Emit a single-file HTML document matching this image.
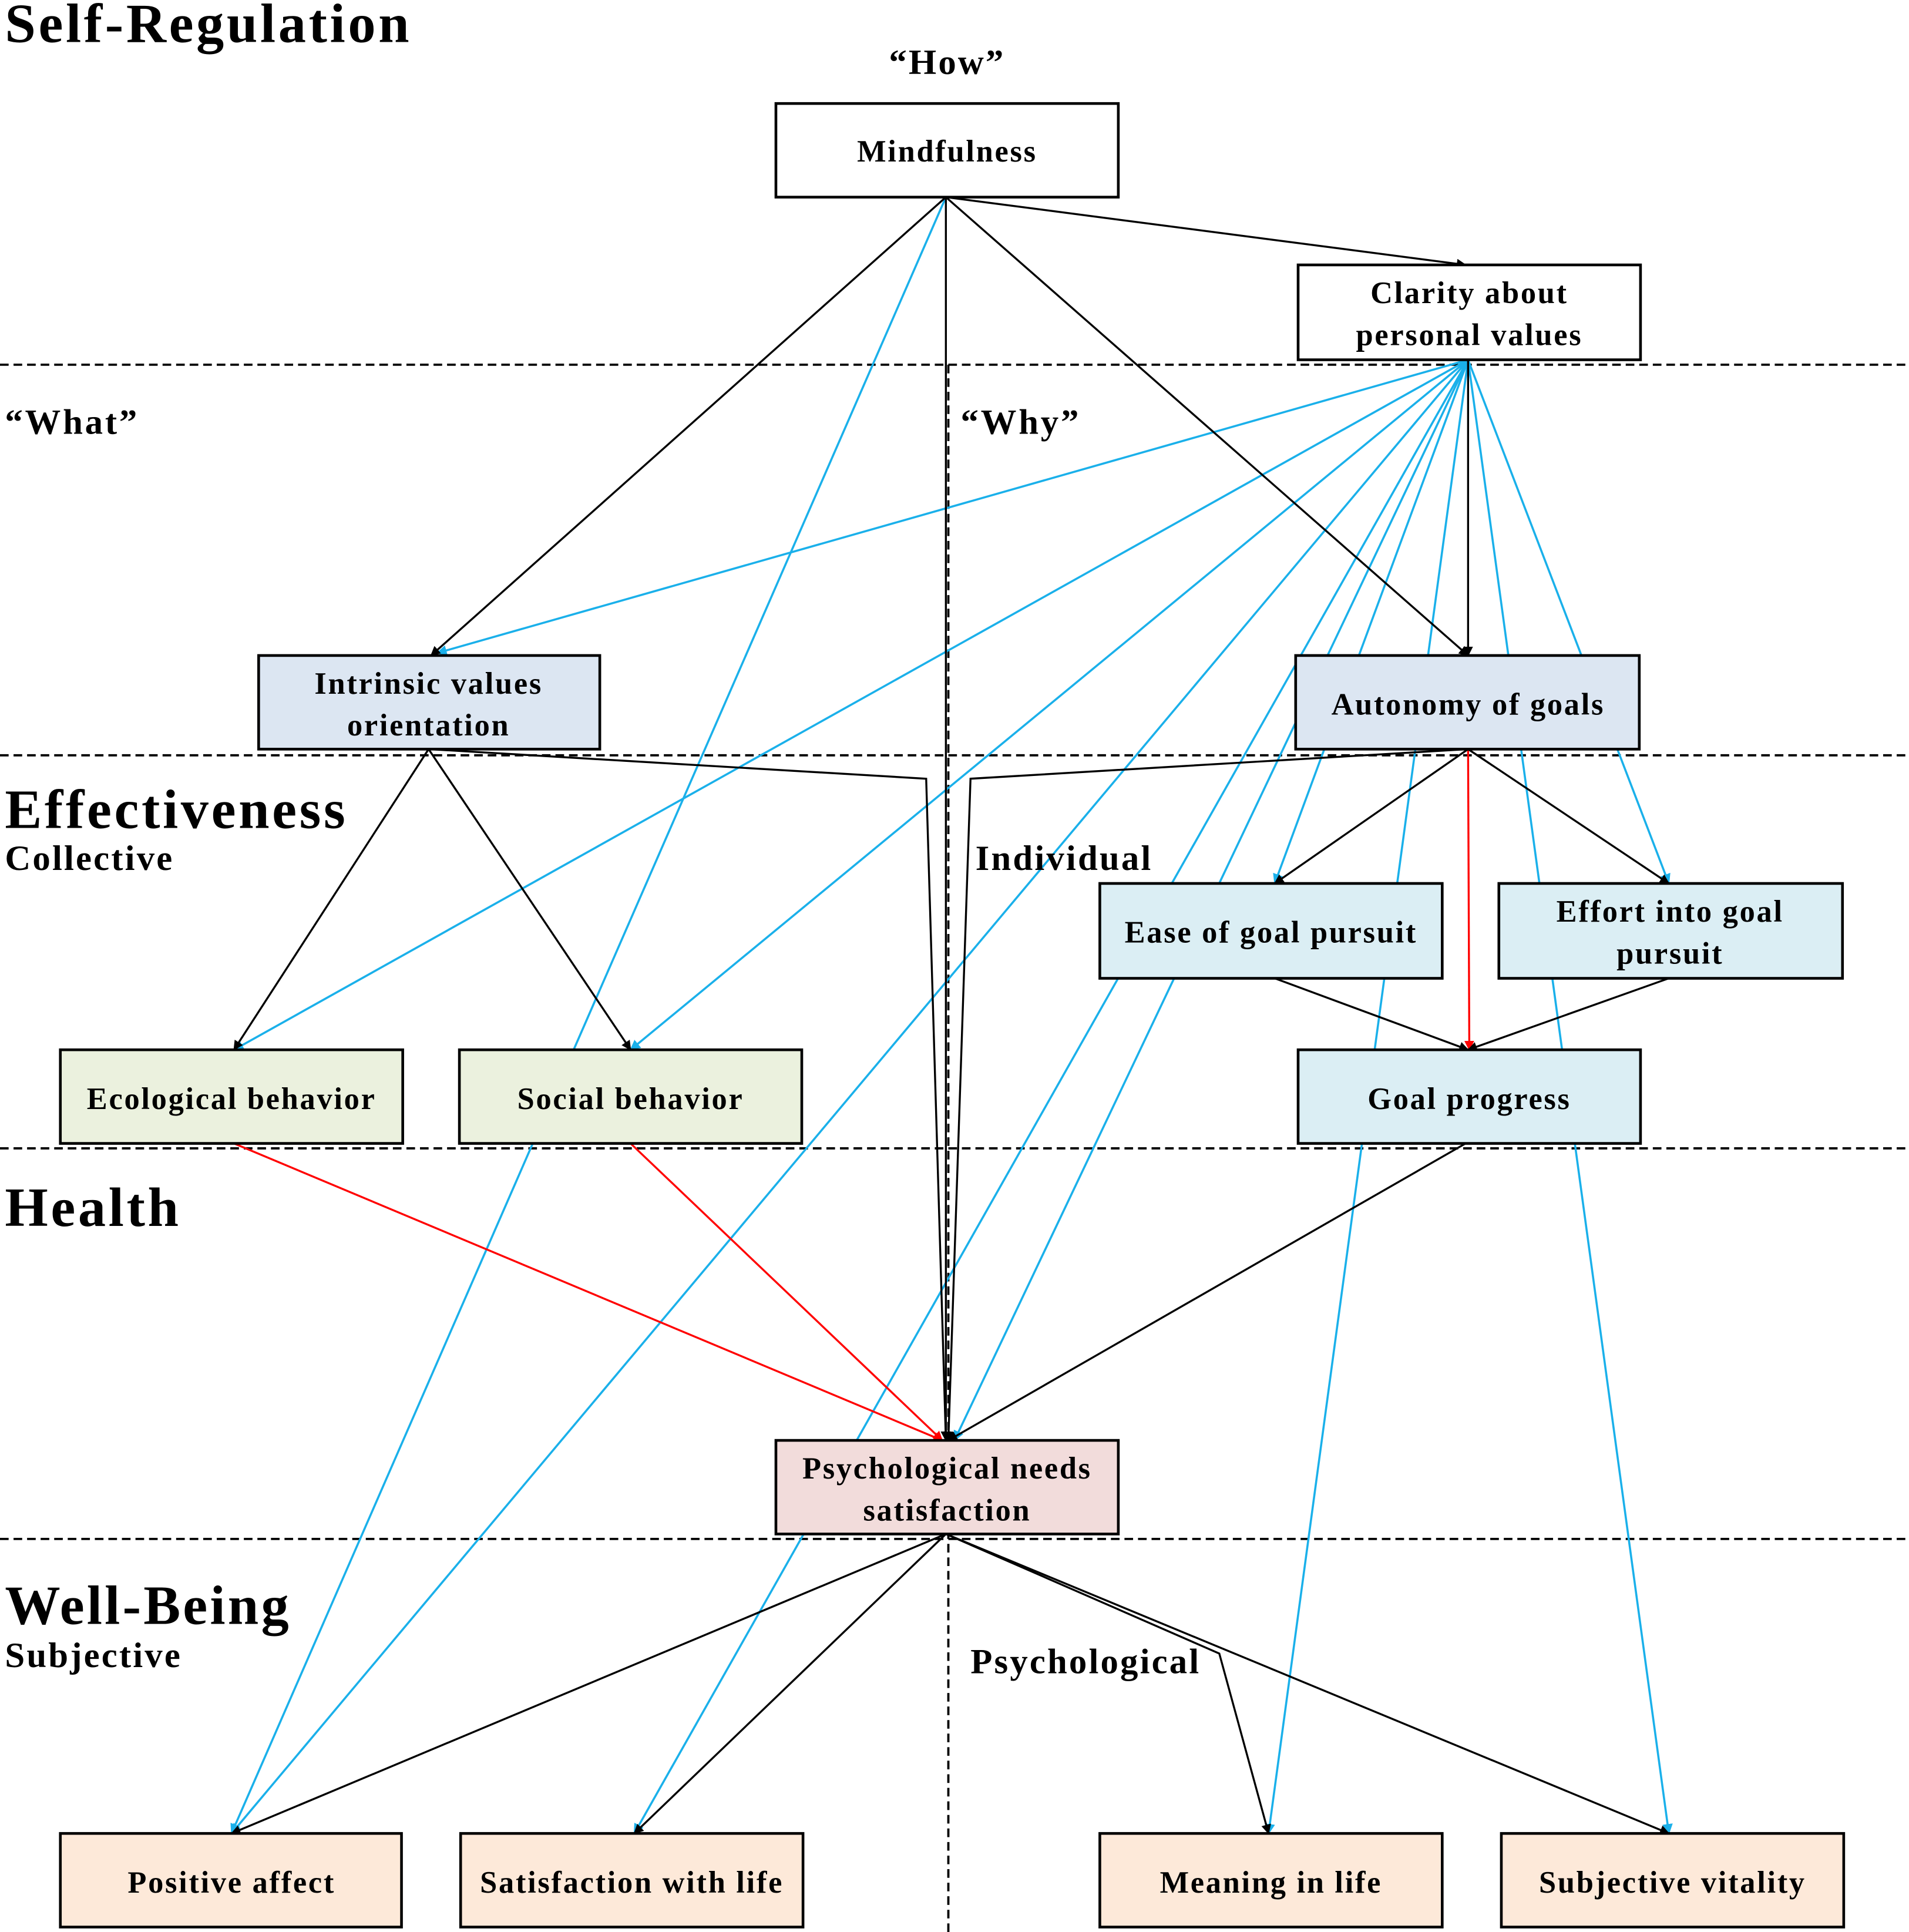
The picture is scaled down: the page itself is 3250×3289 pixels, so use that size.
<!DOCTYPE html>
<html><head><meta charset="utf-8"><style>html,body{margin:0;padding:0;background:#fff}svg{display:block}</style></head><body>
<svg xmlns="http://www.w3.org/2000/svg" width="3250" height="3289" viewBox="0 0 1550 1568" preserveAspectRatio="none" font-family="Liberation Serif, serif" font-weight="bold">
<defs>
<marker id="ak" viewBox="0 0 10 10" refX="9" refY="5" markerWidth="5" markerHeight="5" orient="auto"><path d="M0,0L10,5L0,10z" fill="#000"/></marker>
<marker id="ab" viewBox="0 0 10 10" refX="9" refY="5" markerWidth="5" markerHeight="5" orient="auto"><path d="M0,0L10,5L0,10z" fill="#1ab0ea"/></marker>
<marker id="ar" viewBox="0 0 10 10" refX="9" refY="5" markerWidth="5" markerHeight="5" orient="auto"><path d="M0,0L10,5L0,10z" fill="#f00"/></marker>
</defs>
<g stroke="#000" stroke-width="1.8" stroke-dasharray="7,4" fill="none">
<line x1="0" y1="296" x2="1550" y2="296"/>
<line x1="0" y1="613" x2="1550" y2="613"/>
<line x1="0" y1="932" x2="1550" y2="932"/>
<line x1="0" y1="1249" x2="1550" y2="1249"/>
<line x1="770" y1="296" x2="770" y2="1568"/>
</g>
<g stroke="#1ab0ea" stroke-width="1.7" fill="none" marker-end="url(#ab)">
<line x1="768" y1="160" x2="188" y2="1488"/>
<line x1="1192" y1="292" x2="355" y2="530"/>
<line x1="1192" y1="292" x2="190" y2="852"/>
<line x1="1192" y1="292" x2="512" y2="852"/>
<line x1="1192" y1="292" x2="188" y2="1488"/>
<line x1="1192" y1="292" x2="515" y2="1488"/>
<line x1="1192" y1="292" x2="775" y2="1169"/>
<line x1="1192" y1="292" x2="1035" y2="717"/>
<line x1="1192" y1="292" x2="1355" y2="717"/>
<line x1="1192" y1="292" x2="1030" y2="1488"/>
<line x1="1192" y1="292" x2="1355" y2="1488"/>
</g>
<g stroke="#f00" stroke-width="1.6" fill="none" marker-end="url(#ar)">
<line x1="190" y1="928" x2="765" y2="1169"/>
<line x1="512" y1="928" x2="765" y2="1169"/>
<line x1="1192" y1="608" x2="1193" y2="852"/>
</g>
<g stroke="#000" stroke-width="1.6" fill="none" marker-end="url(#ak)">
<line x1="768" y1="160" x2="1190" y2="215"/>
<line x1="768" y1="160" x2="350" y2="532"/>
<line x1="768" y1="160" x2="1192" y2="532"/>
<line x1="768" y1="160" x2="768" y2="1169"/>
<line x1="1192" y1="292" x2="1192" y2="532"/>
<line x1="348" y1="608" x2="190" y2="852"/>
<line x1="348" y1="608" x2="512" y2="852"/>
<polyline points="348,608 752,632 768,1169"/>
<polyline points="1192,608 788,632 770,1169"/>
<line x1="1192" y1="608" x2="1035" y2="717"/>
<line x1="1192" y1="608" x2="1355" y2="717"/>
<line x1="1035" y1="794" x2="1192" y2="852"/>
<line x1="1355" y1="794" x2="1192" y2="852"/>
<line x1="1190" y1="928" x2="770" y2="1169"/>
<line x1="768" y1="1245" x2="188" y2="1488"/>
<line x1="768" y1="1245" x2="515" y2="1488"/>
<polyline points="768,1245 990,1342 1030,1488"/>
<line x1="768" y1="1245" x2="1355" y2="1488"/>
</g>
<g stroke="#000" stroke-width="2.2">
<rect x="630" y="84" width="278" height="76" fill="#fff"/>
<rect x="1054" y="215" width="278" height="77" fill="#fff"/>
<rect x="210" y="532" width="277" height="76" fill="#dce6f2"/>
<rect x="1052" y="532" width="279" height="76" fill="#dce6f2"/>
<rect x="893" y="717" width="278" height="77" fill="#dbeef4"/>
<rect x="1217" y="717" width="279" height="77" fill="#dbeef4"/>
<rect x="49" y="852" width="278" height="76" fill="#ebf1de"/>
<rect x="373" y="852" width="278" height="76" fill="#ebf1de"/>
<rect x="1054" y="852" width="278" height="76" fill="#dbeef4"/>
<rect x="630" y="1169" width="278" height="76" fill="#f2dcdb"/>
<rect x="49" y="1488" width="277" height="76" fill="#fde9d9"/>
<rect x="374" y="1488" width="278" height="76" fill="#fde9d9"/>
<rect x="893" y="1488" width="278" height="76" fill="#fde9d9"/>
<rect x="1219" y="1488" width="278" height="76" fill="#fde9d9"/>
</g>
<g font-size="25" text-anchor="middle" fill="#000" letter-spacing="1.3">
<text x="769" y="131">Mindfulness</text>
<text x="1193" y="246">Clarity about</text><text x="1193" y="280">personal values</text>
<text x="348" y="563">Intrinsic values</text><text x="348" y="597">orientation</text>
<text x="1192" y="580">Autonomy of goals</text>
<text x="1032" y="765">Ease of goal pursuit</text>
<text x="1356" y="748">Effort into goal</text><text x="1356" y="782">pursuit</text>
<text x="188" y="900">Ecological behavior</text>
<text x="512" y="900">Social behavior</text>
<text x="1193" y="900">Goal progress</text>
<text x="769" y="1200">Psychological needs</text><text x="769" y="1234">satisfaction</text>
<text x="188" y="1536">Positive affect</text>
<text x="513" y="1536">Satisfaction with life</text>
<text x="1032" y="1536">Meaning in life</text>
<text x="1358" y="1536">Subjective vitality</text>
</g>
<g fill="#000">
<text x="4" y="34" font-size="45" letter-spacing="2.2">Self-Regulation</text>
<text x="769" y="60" font-size="29" text-anchor="middle" letter-spacing="1.5">“How”</text>
<text x="4" y="352" font-size="29" letter-spacing="1.8">“What”</text>
<text x="780" y="352" font-size="29" letter-spacing="1.8">“Why”</text>
<text x="4" y="672" font-size="45" letter-spacing="2.2">Effectiveness</text>
<text x="4" y="706" font-size="29" letter-spacing="1.5">Collective</text>
<text x="792" y="706" font-size="29" letter-spacing="1.5">Individual</text>
<text x="4" y="995" font-size="45" letter-spacing="2.2">Health</text>
<text x="4" y="1318" font-size="45" letter-spacing="2">Well-Being</text>
<text x="4" y="1353" font-size="29" letter-spacing="1.5">Subjective</text>
<text x="788" y="1358" font-size="29" letter-spacing="1.5">Psychological</text>
</g>
</svg>
</body></html>
